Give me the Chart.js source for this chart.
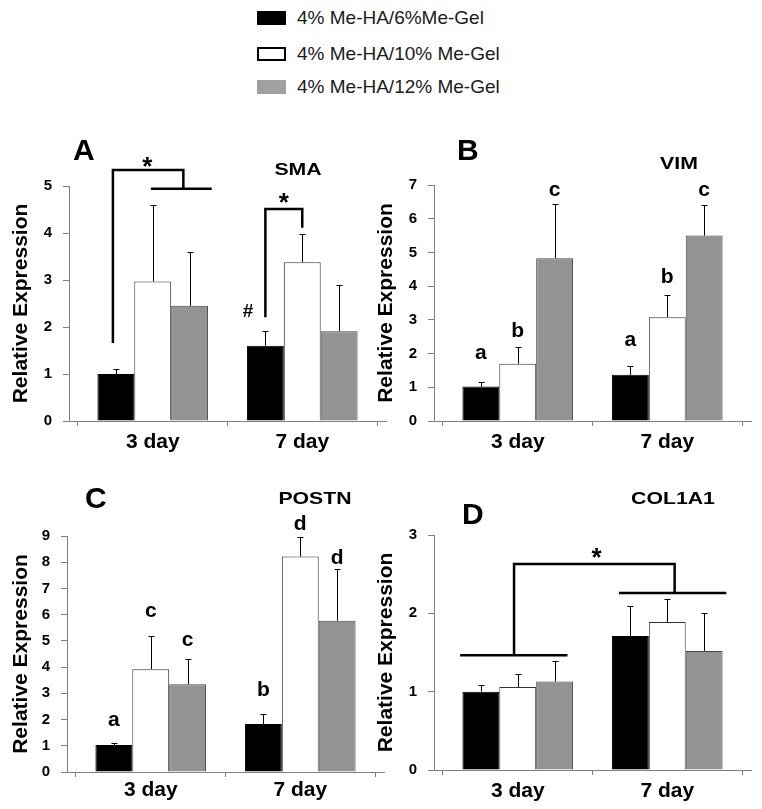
<!DOCTYPE html>
<html>
<head>
<meta charset="utf-8">
<script src="https://cdn.jsdelivr.net/npm/chart.js@4/dist/chart.umd.min.js"></script>
<style>
  body { margin: 0; background: #fff; width: 762px; height: 809px; position: relative; overflow: hidden; font-family: 'Liberation Sans', Arial, sans-serif; }
  canvas { position: absolute; }
  .legend-row { position: absolute; left: 257px; height: 14px; white-space: nowrap; }
  .legend-box { position: absolute; left: 0; top: 0; width: 29px; height: 14px; box-sizing: border-box; }
  .legend-text { position: absolute; left: 40px; top: -4px; font-size: 19px; line-height: 22px; color: #1a1a1a; }
</style>
</head>
<body>
<div id="legend"></div>
<canvas id="chartA"></canvas>
<canvas id="chartB"></canvas>
<canvas id="chartC"></canvas>
<canvas id="chartD"></canvas>
<script>
const days = ['3 day', '7 day'];
const seriesLabels = ['4% Me-HA/6%Me-Gel', '4% Me-HA/10% Me-Gel', '4% Me-HA/12% Me-Gel'];
const seriesFill = ['#000000', '#ffffff', '#939393'];
const seriesEdge = ['#000000', '#333333', '#444444'];
const legendFill = ['#000000', '#ffffff', '#a0a0a0'];

// SMA (panel A): means and SD, one array per series
const smaMean = [[1.0, 1.6], [2.97, 3.38], [2.45, 1.91]];
const smaSD = [[0.1, 0.32], [1.63, 0.6], [1.15, 0.99]];
// VIM (panel B)
const vimMean = [[1.02, 1.37], [1.7, 3.08], [4.83, 5.5]];
const vimSD = [[0.13, 0.27], [0.5, 0.65], [1.62, 0.92]];
// POSTN (panel C)
const postnMean = [[1.03, 1.83], [3.92, 8.22], [3.35, 5.77]];
const postnSD = [[0.07, 0.37], [1.28, 0.73], [0.97, 1.98]];
// COL1A1 (panel D)
const colMean = [[1.0, 1.71], [1.06, 1.89], [1.13, 1.52]];
const colSD = [[0.08, 0.38], [0.17, 0.29], [0.26, 0.49]];

// significance letters (per series, per day) and their heights in data units
const vimLetters = [['a', 'a'], ['b', 'b'], ['c', 'c']];
const vimLetterY = [[2.0, 2.4], [2.7, 4.33], [6.85, 6.85]];
const postnLetters = [['a', 'b'], ['c', 'd'], ['c', 'd']];
const postnLetterY = [[1.96, 3.2], [6.13, 9.53], [5.02, 8.2]];

// brackets: points are [[series, day, offset in bar widths], y value]
const smaBrackets = [
  [[[0, 0, -0.08], 1.66], [[0, 0, -0.08], 5.34], [[2, 0, -0.17], 5.34], [[2, 0, -0.17], 4.94]],
  [[[1, 0, -0.05], 4.94], [[2, 0, 0.6], 4.94]],
  [[[0, 1, 0], 2.21], [[0, 1, 0], 4.51], [[1, 1, 0], 4.51], [[1, 1, 0], 4.11]]
];
const smaSymbols = [['*', [1, 0, -0.15], 5.51], ['*', [0, 1, 0.5], 4.74], ['#', [0, 1, -0.47], 2.36]];
const colBrackets = [
  [[[0, 0, -0.56], 1.465], [[2, 0, 0.35], 1.465]],
  [[[1, 0, -0.1], 1.465], [[1, 0, -0.1], 2.63], [[1, 1, 0.2], 2.63], [[1, 1, 0.2], 2.26]],
  [[[0, 1, -0.31], 2.26], [[2, 1, 0.6], 2.26]]
];
const colSymbols = [['*', [0, 1, -0.92], 2.77]];

const family = "'Liberation Sans', Arial, sans-serif";

// legend
const legend = document.getElementById('legend');
seriesLabels.forEach((label, i) => {
  const row = document.createElement('div');
  row.className = 'legend-row';
  row.style.top = [11, 47, 80][i] + 'px';
  const box = document.createElement('div');
  box.className = 'legend-box';
  box.style.background = legendFill[i];
  if (i === 1) box.style.border = '2px solid #000';
  const text = document.createElement('div');
  text.className = 'legend-text';
  text.textContent = label;
  row.appendChild(box);
  row.appendChild(text);
  legend.appendChild(row);
});

function anchorX(chart, a) {
  const bar = chart.getDatasetMeta(a[0]).data[a[1]];
  return bar.x + a[2] * bar.width;
}

// draw text with its ink centred on (x, cy)
function centredText(ctx, text, x, cy, font, sx) {
  ctx.save();
  ctx.font = font;
  ctx.textAlign = 'center';
  ctx.textBaseline = 'alphabetic';
  const m = ctx.measureText(text);
  ctx.translate(x, cy + (m.actualBoundingBoxAscent - m.actualBoundingBoxDescent) / 2);
  ctx.scale(sx || 1, 1);
  ctx.fillStyle = '#000';
  ctx.fillText(text, 0, 0);
  ctx.restore();
}

const errorBars = {
  id: 'errorBars',
  afterDatasetsDraw(chart) {
    const ctx = chart.ctx;
    const y = chart.scales.y;
    ctx.save();
    ctx.strokeStyle = '#000';
    ctx.lineWidth = 1;
    chart.data.datasets.forEach((ds, i) => {
      chart.getDatasetMeta(i).data.forEach((bar, j) => {
        const x = Math.round(bar.x) + 0.5;
        const top = Math.round(y.getPixelForValue(ds.data[j] + ds.sd[j])) + 0.5;
        ctx.beginPath();
        ctx.moveTo(x, bar.y);
        ctx.lineTo(x, top);
        ctx.moveTo(x - 3, top);
        ctx.lineTo(x + 3, top);
        ctx.stroke();
      });
    });
    ctx.restore();
  }
};

function drawPanel(canvasId, p) {
  const canvas = document.getElementById(canvasId);
  const box = p.box;
  canvas.width = box.width;
  canvas.height = box.height;
  canvas.style.left = box.left + 'px';
  canvas.style.top = box.top + 'px';
  canvas.style.width = box.width + 'px';
  canvas.style.height = box.height + 'px';

  const datasets = seriesLabels.map((label, i) => ({
    label: label,
    data: p.mean[i],
    sd: p.sd[i],
    backgroundColor: seriesFill[i],
    borderColor: seriesEdge[i],
    borderWidth: 1,
    categoryPercentage: 0.74,
    barPercentage: 1
  }));

  const marks = {
    id: 'marks',
    afterDraw(chart) {
      const ctx = chart.ctx;
      const y = chart.scales.y;
      ctx.save();
      ctx.strokeStyle = '#000';
      ctx.lineWidth = 2.5;
      (p.brackets || []).forEach(line => {
        ctx.beginPath();
        line.forEach((pt, k) => {
          const px = anchorX(chart, pt[0]);
          const py = y.getPixelForValue(pt[1]);
          if (k === 0) ctx.moveTo(px, py); else ctx.lineTo(px, py);
        });
        ctx.stroke();
      });
      ctx.restore();

      (p.symbols || []).forEach(s => {
        const size = s[0] === '*' ? 26 : 19;
        centredText(ctx, s[0], anchorX(chart, s[1]), y.getPixelForValue(s[2]), 'bold ' + size + 'px ' + family);
      });

      if (p.letters) {
        p.letters.forEach((row, i) => {
          row.forEach((letter, j) => {
            const bar = chart.getDatasetMeta(i).data[j];
            centredText(ctx, letter, bar.x, y.getPixelForValue(p.letterY[i][j]), 'bold 21px ' + family);
          });
        });
      }

      // panel tag: ink top-left at given page position
      ctx.save();
      ctx.font = 'bold 30px ' + family;
      ctx.textAlign = 'left';
      ctx.textBaseline = 'alphabetic';
      ctx.fillStyle = '#000';
      const m = ctx.measureText(p.tag);
      ctx.fillText(p.tag, p.tagAt[0] - box.left + m.actualBoundingBoxLeft, p.tagAt[1] - box.top + m.actualBoundingBoxAscent);
      ctx.restore();

      centredText(ctx, p.gene, p.geneAt[0] - box.left, p.geneAt[1] - box.top, 'bold 17px ' + family, 1.25);
    }
  };

  new Chart(canvas, {
    type: 'bar',
    data: { labels: days, datasets: datasets },
    options: {
      responsive: false,
      animation: false,
      devicePixelRatio: 1,
      layout: { padding: { left: 0, top: p.padTop, right: p.padRight, bottom: 0 } },
      plugins: { legend: { display: false }, tooltip: { enabled: false } },
      scales: {
        x: {
          grid: { display: true, drawOnChartArea: false, drawTicks: true, tickLength: 5, color: '#808080' },
          border: { color: '#808080', width: 1 },
          ticks: { color: '#000', padding: p.xPad, font: { family: family, size: 21, weight: 'bold' } },
          afterFit: s => { s.height = p.xAxisH; },
          // the two day groups sit a little closer together than the category centres
          afterUpdate: s => { s._startValue -= 0.06; s._valueRange += 0.12; }
        },
        y: {
          min: 0,
          max: p.yMax,
          grid: { drawOnChartArea: false, drawTicks: true, tickLength: 6, color: '#808080' },
          border: { color: '#808080', width: 1 },
          ticks: { stepSize: 1, color: '#000', padding: 11, font: { family: family, size: 15, weight: 'bold' } },
          title: {
            display: true,
            text: 'Relative Expression',
            color: '#000',
            font: { family: family, size: 21, weight: 'bold' },
            padding: { top: 9, bottom: 0 }
          },
          afterFit: s => { s.width = p.yAxisW; }
        }
      }
    },
    plugins: [errorBars, marks]
  });
}

drawPanel('chartA', {
  mean: smaMean, sd: smaSD, yMax: 5, tag: 'A', gene: 'SMA',
  brackets: smaBrackets, symbols: smaSymbols,
  box: { left: 0, top: 120, width: 392, height: 340 },
  yAxisW: 69, padTop: 66, padRight: 6, xAxisH: 39, xPad: 4,
  tagAt: [73, 140], geneAt: [298, 169]
});
drawPanel('chartB', {
  mean: vimMean, sd: vimSD, yMax: 7, tag: 'B', gene: 'VIM',
  letters: vimLetters, letterY: vimLetterY,
  box: { left: 365, top: 120, width: 392, height: 340 },
  yAxisW: 69, padTop: 65, padRight: 6, xAxisH: 39, xPad: 4,
  tagAt: [459, 140], geneAt: [679, 163]
});
drawPanel('chartC', {
  mean: postnMean, sd: postnSD, yMax: 9, tag: 'C', gene: 'POSTN',
  letters: postnLetters, letterY: postnLetterY,
  box: { left: 0, top: 470, width: 390, height: 339 },
  yAxisW: 67, padTop: 66, padRight: 6, xAxisH: 37, xPad: 1,
  tagAt: [86, 488], geneAt: [315, 498]
});
drawPanel('chartD', {
  mean: colMean, sd: colSD, yMax: 3, tag: 'D', gene: 'COL1A1',
  brackets: colBrackets, symbols: colSymbols,
  box: { left: 365, top: 470, width: 392, height: 339 },
  yAxisW: 69, padTop: 65, padRight: 6, xAxisH: 39, xPad: 4,
  tagAt: [464, 504], geneAt: [673, 498]
});
</script>
</body>
</html>
